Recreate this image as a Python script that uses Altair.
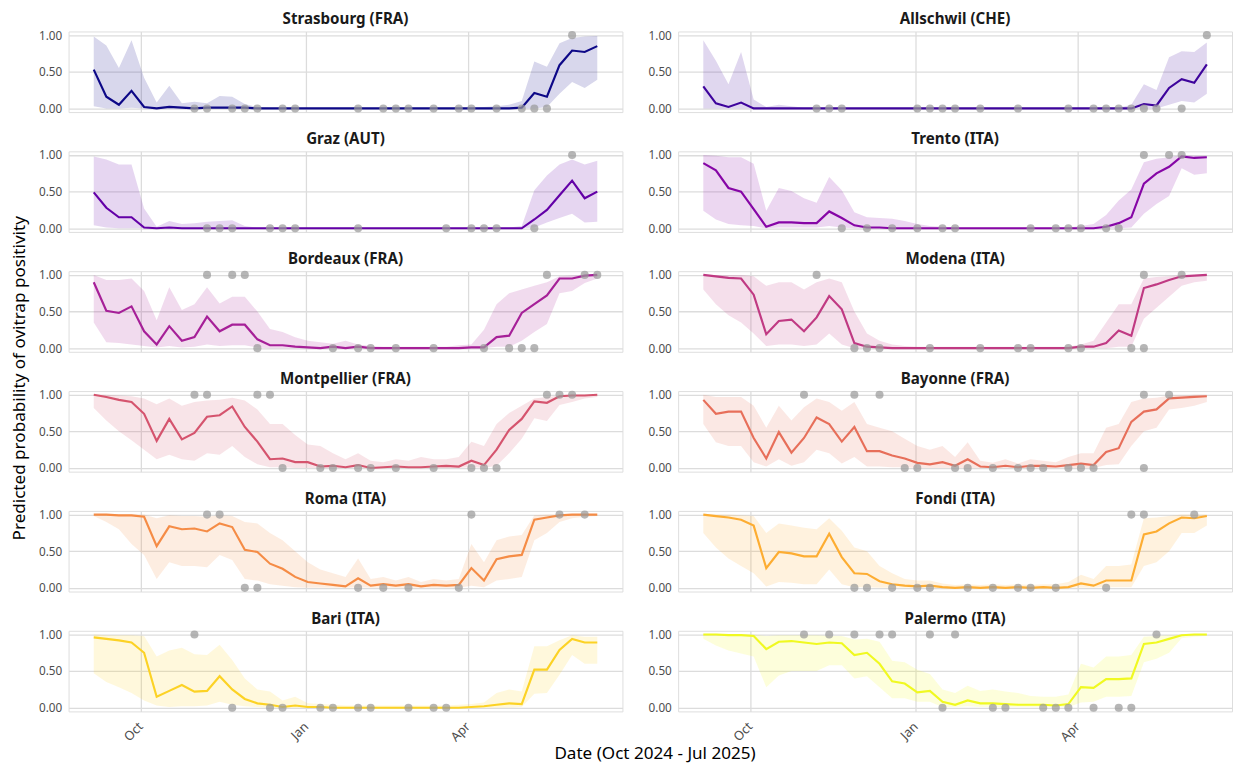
import altair as alt
import pandas as pd

DATES = [
    "2024-09-05", "2024-09-12", "2024-09-19", "2024-09-26", "2024-10-03",
    "2024-10-10", "2024-10-17", "2024-10-24", "2024-10-31", "2024-11-07",
    "2024-11-14", "2024-11-21", "2024-11-28", "2024-12-05", "2024-12-12",
    "2024-12-19", "2024-12-26", "2025-01-02", "2025-01-09", "2025-01-16",
    "2025-01-23", "2025-01-30", "2025-02-06", "2025-02-13", "2025-02-20",
    "2025-02-27", "2025-03-06", "2025-03-13", "2025-03-20", "2025-03-27",
    "2025-04-03", "2025-04-10", "2025-04-17", "2025-04-24", "2025-05-01",
    "2025-05-08", "2025-05-15", "2025-05-22", "2025-05-29", "2025-06-05",
    "2025-06-12",
]

CITIES = ["Strasbourg (FRA)", "Allschwil (CHE)", "Graz (AUT)", "Trento (ITA)",
          "Bordeaux (FRA)", "Modena (ITA)", "Montpellier (FRA)", "Bayonne (FRA)",
          "Roma (ITA)", "Fondi (ITA)", "Bari (ITA)", "Palermo (ITA)"]
COLORS = ["#0D0887", "#3E049C", "#6300A7", "#8606A6", "#A62098", "#C03A83",
          "#D5546E", "#E76F5A", "#F58C46", "#FDAD32", "#FCD225", "#F0F921"]

# ---------------- Strasbourg ----------------
STRASBOURG_MEAN = [0.53, 0.16, 0.05, 0.24, 0.02, 0.00, 0.02, 0.01, 0.00, 0.01,
                   0.01, 0.01, 0.01, 0.00, 0.00, 0.00, 0.00, 0.00, 0.00, 0.00,
                   0.00, 0.00, 0.00, 0.00, 0.00, 0.00, 0.00, 0.00, 0.00, 0.00,
                   0.00, 0.00, 0.00, 0.00, 0.01, 0.21, 0.16, 0.59, 0.79, 0.77, 0.85]
STRASBOURG_LO = [0.03, 0.00, 0.00, 0.01, 0.00, 0.00, 0.00, 0.00, 0.00, 0.00,
                 0.00, 0.00, 0.00, 0.00, 0.00, 0.00, 0.00, 0.00, 0.00, 0.00,
                 0.00, 0.00, 0.00, 0.00, 0.00, 0.00, 0.00, 0.00, 0.00, 0.00,
                 0.00, 0.00, 0.00, 0.00, 0.00, 0.00, 0.02, 0.20, 0.36, 0.28, 0.39]
STRASBOURG_HI = [0.98, 0.86, 0.55, 0.93, 0.42, 0.08, 0.31, 0.07, 0.09, 0.07,
                 0.17, 0.16, 0.06, 0.02, 0.01, 0.01, 0.01, 0.01, 0.01, 0.01,
                 0.01, 0.01, 0.01, 0.01, 0.01, 0.01, 0.01, 0.01, 0.01, 0.01,
                 0.01, 0.02, 0.03, 0.05, 0.10, 0.64, 0.57, 0.89, 0.96, 0.98, 0.99]
STRASBOURG_NEG = [8, 9, 11, 12, 13, 15, 16, 21, 23, 24, 25, 27, 29, 30, 32, 34, 35, 36]
STRASBOURG_POS = [38]

# ---------------- Allschwil ----------------
ALLSCHWIL_MEAN = [0.30, 0.07, 0.02, 0.08, 0.00, 0.00, 0.00, 0.00, 0.00, 0.00,
                  0.00, 0.00, 0.00, 0.00, 0.00, 0.00, 0.00, 0.00, 0.00, 0.00,
                  0.00, 0.00, 0.00, 0.00, 0.00, 0.00, 0.00, 0.00, 0.00, 0.00,
                  0.00, 0.00, 0.00, 0.00, 0.00, 0.06, 0.04, 0.28, 0.40, 0.35, 0.60]
ALLSCHWIL_LO = [0.00, 0.00, 0.00, 0.00, 0.00, 0.00, 0.00, 0.00, 0.00, 0.00,
                0.00, 0.00, 0.00, 0.00, 0.00, 0.00, 0.00, 0.00, 0.00, 0.00,
                0.00, 0.00, 0.00, 0.00, 0.00, 0.00, 0.00, 0.00, 0.00, 0.00,
                0.00, 0.00, 0.00, 0.00, 0.00, 0.00, 0.00, 0.05, 0.10, 0.08, 0.20]
ALLSCHWIL_HI = [0.93, 0.65, 0.33, 0.77, 0.12, 0.02, 0.05, 0.03, 0.01, 0.01,
                0.01, 0.01, 0.01, 0.01, 0.01, 0.01, 0.01, 0.01, 0.01, 0.01,
                0.01, 0.01, 0.01, 0.01, 0.01, 0.01, 0.01, 0.01, 0.01, 0.01,
                0.01, 0.01, 0.01, 0.01, 0.05, 0.33, 0.25, 0.70, 0.78, 0.77, 0.90]
ALLSCHWIL_NEG = [9, 10, 11, 17, 18, 19, 20, 22, 25, 29, 31, 32, 33, 34, 35, 36, 38]
ALLSCHWIL_POS = [40]

# ---------------- Graz ----------------
GRAZ_MEAN = [0.49, 0.28, 0.15, 0.15, 0.01, 0.00, 0.01, 0.00, 0.00, 0.00,
             0.00, 0.00, 0.00, 0.00, 0.00, 0.00, 0.00, 0.00, 0.00, 0.00,
             0.00, 0.00, 0.00, 0.00, 0.00, 0.00, 0.00, 0.00, 0.00, 0.00,
             0.00, 0.00, 0.00, 0.00, 0.00, 0.12, 0.25, 0.45, 0.65, 0.41, 0.50]
GRAZ_LO = [0.04, 0.01, 0.00, 0.00, 0.00, 0.00, 0.00, 0.00, 0.00, 0.00,
           0.00, 0.00, 0.00, 0.00, 0.00, 0.00, 0.00, 0.00, 0.00, 0.00,
           0.00, 0.00, 0.00, 0.00, 0.00, 0.00, 0.00, 0.00, 0.00, 0.00,
           0.00, 0.00, 0.00, 0.00, 0.00, 0.01, 0.08, 0.14, 0.20, 0.08, 0.09]
GRAZ_HI = [0.98, 0.94, 0.87, 0.87, 0.27, 0.02, 0.10, 0.06, 0.07, 0.09,
           0.10, 0.11, 0.03, 0.01, 0.01, 0.01, 0.01, 0.01, 0.01, 0.01,
           0.01, 0.01, 0.01, 0.01, 0.01, 0.01, 0.01, 0.01, 0.01, 0.01,
           0.01, 0.01, 0.01, 0.01, 0.03, 0.52, 0.72, 0.87, 0.94, 0.87, 0.92]
GRAZ_NEG = [9, 10, 11, 14, 15, 16, 21, 28, 30, 31, 32, 35]
GRAZ_POS = [38]

# ---------------- Trento ----------------
TRENTO_MEAN = [0.89, 0.79, 0.55, 0.50, 0.26, 0.02, 0.08, 0.08, 0.07, 0.07,
               0.23, 0.14, 0.04, 0.01, 0.01, 0.00, 0.00, 0.00, 0.00, 0.00,
               0.00, 0.00, 0.00, 0.00, 0.00, 0.00, 0.00, 0.00, 0.00, 0.00,
               0.00, 0.00, 0.02, 0.07, 0.15, 0.61, 0.75, 0.84, 0.98, 0.96, 0.97]
TRENTO_LO = [0.24, 0.12, 0.06, 0.04, 0.03, 0.00, 0.01, 0.01, 0.01, 0.01,
             0.03, 0.01, 0.00, 0.00, 0.00, 0.00, 0.00, 0.00, 0.00, 0.00,
             0.00, 0.00, 0.00, 0.00, 0.00, 0.00, 0.00, 0.00, 0.00, 0.00,
             0.00, 0.00, 0.00, 0.00, 0.01, 0.20, 0.33, 0.44, 0.82, 0.73, 0.75]
TRENTO_HI = [1.00, 0.99, 0.97, 0.97, 0.88, 0.24, 0.55, 0.51, 0.41, 0.35,
             0.70, 0.52, 0.22, 0.15, 0.14, 0.13, 0.10, 0.06, 0.03, 0.02,
             0.01, 0.01, 0.01, 0.01, 0.01, 0.01, 0.01, 0.01, 0.01, 0.01,
             0.03, 0.06, 0.18, 0.38, 0.53, 0.90, 0.95, 0.97, 1.00, 0.99, 0.99]
TRENTO_NEG = [11, 13, 15, 17, 19, 20, 26, 28, 29, 30, 32, 33]
TRENTO_POS = [35, 37, 38]

# ---------------- Bordeaux ----------------
BORDEAUX_MEAN = [0.90, 0.51, 0.48, 0.57, 0.23, 0.05, 0.30, 0.10, 0.15, 0.43,
                 0.23, 0.32, 0.32, 0.12, 0.04, 0.04, 0.02, 0.01, 0.00, 0.02,
                 0.00, 0.02, 0.00, 0.00, 0.00, 0.00, 0.00, 0.00, 0.00, 0.00,
                 0.01, 0.01, 0.15, 0.17, 0.48, 0.60, 0.72, 0.95, 0.95, 0.99, 1.00]
BORDEAUX_LO = [0.35, 0.08, 0.07, 0.05, 0.03, 0.01, 0.03, 0.01, 0.02, 0.05,
               0.03, 0.04, 0.04, 0.01, 0.00, 0.00, 0.00, 0.00, 0.00, 0.00,
               0.00, 0.00, 0.00, 0.00, 0.00, 0.00, 0.00, 0.00, 0.00, 0.00,
               0.00, 0.00, 0.02, 0.02, 0.10, 0.22, 0.33, 0.75, 0.78, 0.89, 0.95]
BORDEAUX_HI = [1.00, 0.93, 0.93, 0.95, 0.78, 0.38, 0.83, 0.52, 0.60, 0.83,
               0.61, 0.70, 0.70, 0.50, 0.26, 0.22, 0.15, 0.10, 0.08, 0.06,
               0.10, 0.05, 0.03, 0.02, 0.02, 0.02, 0.02, 0.02, 0.02, 0.04,
               0.05, 0.25, 0.60, 0.75, 0.80, 0.85, 0.90, 0.98, 0.99, 1.00, 1.00]
BORDEAUX_NEG = [13, 19, 21, 22, 24, 27, 31, 33, 34, 35]
BORDEAUX_POS = [9, 11, 12, 36, 39, 40]

# ---------------- Modena ----------------
MODENA_MEAN = [1.00, 0.98, 0.96, 0.95, 0.73, 0.19, 0.37, 0.39, 0.23, 0.42,
               0.71, 0.53, 0.07, 0.02, 0.01, 0.00, 0.00, 0.00, 0.00, 0.00,
               0.00, 0.00, 0.00, 0.00, 0.00, 0.00, 0.00, 0.00, 0.00, 0.00,
               0.02, 0.02, 0.07, 0.24, 0.17, 0.82, 0.87, 0.93, 0.98, 0.99, 1.00]
MODENA_LO = [0.80, 0.60, 0.45, 0.35, 0.20, 0.03, 0.05, 0.05, 0.03, 0.05,
             0.20, 0.05, 0.00, 0.00, 0.00, 0.00, 0.00, 0.00, 0.00, 0.00,
             0.00, 0.00, 0.00, 0.00, 0.00, 0.00, 0.00, 0.00, 0.00, 0.00,
             0.00, 0.00, 0.00, 0.02, 0.02, 0.40, 0.55, 0.70, 0.85, 0.90, 0.92]
MODENA_HI = [1.00, 1.00, 1.00, 1.00, 0.98, 0.85, 0.90, 0.90, 0.80, 0.90,
             0.95, 0.90, 0.50, 0.20, 0.10, 0.05, 0.03, 0.02, 0.02, 0.02,
             0.02, 0.02, 0.02, 0.02, 0.02, 0.02, 0.02, 0.02, 0.02, 0.02,
             0.05, 0.10, 0.35, 0.60, 0.60, 0.95, 0.97, 0.98, 1.00, 1.00, 1.00]
MODENA_NEG = [12, 13, 14, 18, 22, 25, 26, 29, 30, 34, 35]
MODENA_POS = [9, 35, 38]

# ---------------- Montpellier ----------------
MONTPELLIER_MEAN = [1.00, 0.97, 0.93, 0.90, 0.74, 0.37, 0.67, 0.39, 0.48, 0.70,
                    0.72, 0.84, 0.56, 0.36, 0.12, 0.13, 0.08, 0.08, 0.02, 0.03,
                    0.01, 0.04, 0.00, 0.01, 0.02, 0.01, 0.01, 0.02, 0.03, 0.02,
                    0.10, 0.04, 0.25, 0.52, 0.67, 0.91, 0.89, 0.98, 0.99, 0.99, 1.00]
MONTPELLIER_LO = [0.82, 0.65, 0.50, 0.38, 0.25, 0.12, 0.18, 0.12, 0.10, 0.20,
                  0.18, 0.30, 0.15, 0.05, 0.01, 0.01, 0.00, 0.00, 0.00, 0.00,
                  0.00, 0.00, 0.00, 0.00, 0.00, 0.00, 0.00, 0.00, 0.00, 0.00,
                  0.01, 0.00, 0.03, 0.20, 0.40, 0.68, 0.64, 0.86, 0.90, 0.95, 0.97]
MONTPELLIER_HI = [1.00, 1.00, 0.99, 0.98, 0.95, 0.87, 0.95, 0.85, 0.90, 0.92,
                  0.93, 0.96, 0.92, 0.80, 0.60, 0.60, 0.45, 0.32, 0.30, 0.20,
                  0.12, 0.20, 0.10, 0.08, 0.12, 0.10, 0.15, 0.12, 0.12, 0.15,
                  0.36, 0.30, 0.60, 0.75, 0.85, 0.95, 0.97, 0.99, 1.00, 1.00, 1.00]
MONTPELLIER_NEG = [15, 18, 19, 21, 22, 24, 27, 30, 31, 32]
MONTPELLIER_POS = [8, 9, 13, 14, 36, 37, 38]

# ---------------- Bayonne ----------------
BAYONNE_MEAN = [0.93, 0.74, 0.77, 0.77, 0.41, 0.13, 0.49, 0.21, 0.41, 0.69,
                0.60, 0.36, 0.56, 0.23, 0.23, 0.17, 0.13, 0.07, 0.05, 0.08,
                0.03, 0.12, 0.02, 0.01, 0.03, 0.01, 0.03, 0.03, 0.02, 0.04,
                0.06, 0.04, 0.22, 0.27, 0.63, 0.77, 0.80, 0.95, 0.96, 0.97, 0.98]
BAYONNE_LO = [0.60, 0.35, 0.30, 0.30, 0.08, 0.02, 0.12, 0.03, 0.08, 0.25,
              0.20, 0.06, 0.15, 0.02, 0.02, 0.01, 0.01, 0.00, 0.00, 0.00,
              0.00, 0.00, 0.00, 0.00, 0.00, 0.00, 0.00, 0.00, 0.00, 0.00,
              0.00, 0.00, 0.04, 0.05, 0.30, 0.50, 0.55, 0.80, 0.82, 0.85, 0.90]
BAYONNE_HI = [1.00, 0.97, 0.97, 0.97, 0.85, 0.55, 0.85, 0.65, 0.83, 0.95,
              0.90, 0.78, 0.90, 0.60, 0.55, 0.50, 0.40, 0.30, 0.25, 0.30,
              0.15, 0.35, 0.10, 0.07, 0.12, 0.06, 0.12, 0.10, 0.08, 0.15,
              0.20, 0.20, 0.55, 0.60, 0.90, 0.95, 0.96, 0.99, 0.99, 1.00, 1.00]
BAYONNE_NEG = [16, 17, 20, 21, 23, 25, 26, 27, 29, 30, 31, 35]
BAYONNE_POS = [8, 12, 14, 35, 37]

# ---------------- Roma ----------------
ROMA_MEAN = [1.00, 1.00, 0.99, 0.99, 0.97, 0.57, 0.84, 0.80, 0.81, 0.77,
             0.88, 0.83, 0.52, 0.49, 0.33, 0.26, 0.15, 0.08, 0.06, 0.04,
             0.02, 0.13, 0.03, 0.05, 0.03, 0.05, 0.02, 0.04, 0.03, 0.04,
             0.27, 0.10, 0.39, 0.43, 0.45, 0.93, 0.96, 0.99, 1.00, 1.00, 1.00]
ROMA_LO = [0.98, 0.90, 0.80, 0.60, 0.45, 0.12, 0.35, 0.30, 0.30, 0.28,
           0.45, 0.38, 0.12, 0.10, 0.05, 0.03, 0.01, 0.00, 0.00, 0.00,
           0.00, 0.01, 0.00, 0.00, 0.00, 0.00, 0.00, 0.00, 0.00, 0.00,
           0.03, 0.01, 0.10, 0.12, 0.15, 0.65, 0.75, 0.90, 0.95, 0.97, 0.98]
ROMA_HI = [1.00, 1.00, 1.00, 1.00, 1.00, 0.95, 0.99, 0.98, 0.98, 0.97,
           0.99, 0.98, 0.90, 0.88, 0.75, 0.65, 0.50, 0.35, 0.25, 0.20,
           0.15, 0.40, 0.12, 0.15, 0.10, 0.15, 0.08, 0.12, 0.10, 0.12,
           0.60, 0.35, 0.65, 0.70, 0.72, 0.99, 1.00, 1.00, 1.00, 1.00, 1.00]
ROMA_NEG = [12, 13, 21, 23, 25, 29]
ROMA_POS = [9, 10, 30, 37, 39]

# ---------------- Fondi ----------------
FONDI_MEAN = [1.00, 0.98, 0.96, 0.93, 0.85, 0.27, 0.49, 0.47, 0.43, 0.43,
              0.74, 0.42, 0.20, 0.19, 0.09, 0.05, 0.03, 0.02, 0.03, 0.01,
              0.00, 0.01, 0.00, 0.01, 0.00, 0.01, 0.00, 0.01, 0.00, 0.01,
              0.06, 0.03, 0.10, 0.10, 0.10, 0.73, 0.77, 0.88, 0.96, 0.95, 0.98]
FONDI_LO = [0.75, 0.55, 0.40, 0.30, 0.20, 0.02, 0.08, 0.07, 0.05, 0.05,
            0.25, 0.05, 0.01, 0.01, 0.00, 0.00, 0.00, 0.00, 0.00, 0.00,
            0.00, 0.00, 0.00, 0.00, 0.00, 0.00, 0.00, 0.00, 0.00, 0.00,
            0.00, 0.00, 0.01, 0.01, 0.01, 0.30, 0.35, 0.50, 0.75, 0.75, 0.85]
FONDI_HI = [1.00, 1.00, 1.00, 0.99, 0.98, 0.75, 0.88, 0.85, 0.82, 0.80,
            0.95, 0.78, 0.55, 0.50, 0.30, 0.20, 0.12, 0.10, 0.10, 0.06,
            0.04, 0.05, 0.04, 0.05, 0.04, 0.05, 0.04, 0.05, 0.05, 0.08,
            0.18, 0.12, 0.30, 0.30, 0.32, 0.95, 0.96, 0.98, 1.00, 1.00, 1.00]
FONDI_NEG = [12, 13, 15, 17, 18, 21, 23, 25, 26, 28, 32]
FONDI_POS = [34, 35, 39]

# ---------------- Bari ----------------
BARI_MEAN = [0.96, 0.94, 0.92, 0.89, 0.75, 0.15, 0.23, 0.31, 0.22, 0.23,
             0.43, 0.25, 0.12, 0.06, 0.04, 0.01, 0.03, 0.01, 0.01, 0.00,
             0.00, 0.00, 0.00, 0.00, 0.00, 0.00, 0.00, 0.00, 0.00, 0.00,
             0.01, 0.02, 0.04, 0.06, 0.05, 0.52, 0.52, 0.79, 0.94, 0.89, 0.89]
BARI_LO = [0.47, 0.35, 0.28, 0.20, 0.10, 0.03, 0.01, 0.02, 0.02, 0.03,
           0.08, 0.04, 0.02, 0.01, 0.00, 0.00, 0.00, 0.00, 0.00, 0.00,
           0.00, 0.00, 0.00, 0.00, 0.00, 0.00, 0.00, 0.00, 0.00, 0.00,
           0.00, 0.00, 0.00, 0.00, 0.01, 0.19, 0.20, 0.45, 0.72, 0.60, 0.60]
BARI_HI = [1.00, 0.99, 0.99, 0.99, 0.98, 0.70, 0.78, 0.82, 0.73, 0.72,
           0.86, 0.65, 0.40, 0.25, 0.22, 0.10, 0.15, 0.06, 0.05, 0.04,
           0.03, 0.03, 0.03, 0.03, 0.03, 0.03, 0.03, 0.03, 0.03, 0.04,
           0.05, 0.07, 0.20, 0.25, 0.22, 0.84, 0.84, 0.92, 0.99, 0.97, 0.97]
BARI_NEG = [11, 14, 15, 18, 19, 21, 22, 25, 27, 28]
BARI_POS = [8]

# ---------------- Palermo ----------------
PALERMO_MEAN = [1.00, 1.00, 0.99, 0.99, 0.98, 0.80, 0.90, 0.91, 0.89, 0.87,
                0.89, 0.88, 0.72, 0.75, 0.60, 0.36, 0.33, 0.21, 0.23, 0.08,
                0.04, 0.10, 0.06, 0.06, 0.05, 0.04, 0.04, 0.04, 0.03, 0.05,
                0.28, 0.27, 0.39, 0.39, 0.40, 0.87, 0.89, 0.94, 0.99, 1.00, 1.00]
PALERMO_LO = [0.94, 0.85, 0.78, 0.74, 0.70, 0.28, 0.44, 0.50, 0.50, 0.50,
              0.58, 0.58, 0.40, 0.43, 0.28, 0.13, 0.13, 0.08, 0.08, 0.01,
              0.01, 0.02, 0.01, 0.01, 0.01, 0.01, 0.01, 0.01, 0.01, 0.01,
              0.07, 0.08, 0.15, 0.15, 0.16, 0.62, 0.67, 0.75, 0.95, 0.97, 0.98]
PALERMO_HI = [1.00, 1.00, 1.00, 1.00, 1.00, 0.98, 0.99, 0.99, 0.99, 0.99,
              0.98, 0.98, 0.93, 0.94, 0.90, 0.64, 0.62, 0.52, 0.46, 0.25,
              0.20, 0.30, 0.23, 0.25, 0.22, 0.20, 0.16, 0.15, 0.15, 0.18,
              0.60, 0.55, 0.70, 0.70, 0.72, 0.97, 0.98, 0.99, 1.00, 1.00, 1.00]
PALERMO_NEG = [19, 23, 24, 27, 28, 29, 31, 33, 34]
PALERMO_POS = [8, 10, 12, 14, 15, 18, 20, 36]

SERIES = [
    (STRASBOURG_MEAN, STRASBOURG_LO, STRASBOURG_HI, STRASBOURG_NEG, STRASBOURG_POS),
    (ALLSCHWIL_MEAN, ALLSCHWIL_LO, ALLSCHWIL_HI, ALLSCHWIL_NEG, ALLSCHWIL_POS),
    (GRAZ_MEAN, GRAZ_LO, GRAZ_HI, GRAZ_NEG, GRAZ_POS),
    (TRENTO_MEAN, TRENTO_LO, TRENTO_HI, TRENTO_NEG, TRENTO_POS),
    (BORDEAUX_MEAN, BORDEAUX_LO, BORDEAUX_HI, BORDEAUX_NEG, BORDEAUX_POS),
    (MODENA_MEAN, MODENA_LO, MODENA_HI, MODENA_NEG, MODENA_POS),
    (MONTPELLIER_MEAN, MONTPELLIER_LO, MONTPELLIER_HI, MONTPELLIER_NEG, MONTPELLIER_POS),
    (BAYONNE_MEAN, BAYONNE_LO, BAYONNE_HI, BAYONNE_NEG, BAYONNE_POS),
    (ROMA_MEAN, ROMA_LO, ROMA_HI, ROMA_NEG, ROMA_POS),
    (FONDI_MEAN, FONDI_LO, FONDI_HI, FONDI_NEG, FONDI_POS),
    (BARI_MEAN, BARI_LO, BARI_HI, BARI_NEG, BARI_POS),
    (PALERMO_MEAN, PALERMO_LO, PALERMO_HI, PALERMO_NEG, PALERMO_POS),
]

Y_TICKS = [0, 0.25, 0.5, 0.75, 1]
X_DOMAIN = [alt.DateTime(year=2024, month=8, date=22, utc=True),
            alt.DateTime(year=2025, month=6, date=26, utc=True)]
X_TICKS = [alt.DateTime(year=2024, month=10, date=1, utc=True),
           alt.DateTime(year=2025, month=1, date=1, utc=True),
           alt.DateTime(year=2025, month=4, date=1, utc=True)]

FONT = "Noto Sans"
GRID = "#dcdcdc"
PANEL_W = 567
PANEL_H = 82.5


def panel(name, color, mean, lo, hi, neg, pos, bottom):
    df = pd.DataFrame({"date": DATES, "mean": mean, "lo": lo, "hi": hi})
    obs = pd.DataFrame({
        "date": [DATES[i] for i in neg] + [DATES[i] for i in pos],
        "obs": [0] * len(neg) + [1] * len(pos),
    })
    xaxis = alt.Axis(values=X_TICKS, labelExpr="utcFormat(datum.value, '%b')",
                     labels=bottom, labelAngle=-45, labelAlign="right",
                     labelBaseline="middle", labelPadding=13, grid=True,
                     gridColor=GRID, gridWidth=1.3, domain=False, ticks=False,
                     title=None, labelFontSize=13, labelColor="#4d4d4d",
                     labelFont=FONT)
    xscale = alt.Scale(type="utc", domain=X_DOMAIN)
    yscale = alt.Scale(domain=[-0.05, 1.05], nice=False, zero=False)
    yaxis = alt.Axis(values=Y_TICKS, format=".2f", grid=True, gridColor=GRID,
                     gridWidth=1.3, domain=False, ticks=False, title=None,
                     labelPadding=7, labelFontSize=12, labelColor="#4d4d4d",
                     labelFont=FONT)
    x = alt.X("date:T", scale=xscale, axis=xaxis)
    band = alt.Chart(df).mark_area(color=color, opacity=0.16).encode(
        x=x, y=alt.Y("lo:Q", scale=yscale, axis=yaxis), y2="hi:Q")
    line = alt.Chart(df).mark_line(color=color, strokeWidth=2.2).encode(
        x=x, y=alt.Y("mean:Q", scale=yscale))
    pts = alt.Chart(obs).mark_circle(color="#9a9a9a", opacity=0.72, size=68).encode(
        x=x, y=alt.Y("obs:Q", scale=yscale))
    return alt.layer(band, line, pts).properties(
        width=PANEL_W, height=PANEL_H,
        title=alt.TitleParams(name, fontSize=15.5, fontWeight="bold", color="#1a1a1a",
                              font=FONT, anchor="middle", offset=1.5))


rows = []
for r in range(6):
    cells = []
    for c in range(2):
        k = r * 2 + c
        m, lo, hi, neg, pos = SERIES[k]
        cells.append(panel(CITIES[k], COLORS[k], m, lo, hi, neg, pos, bottom=(r == 5)))
    rows.append(alt.hconcat(*cells, spacing=24))

grid = alt.vconcat(*rows, spacing=16.7).properties(
    title=alt.TitleParams("Predicted probability of ovitrap positivity", orient="left",
                          anchor="middle", fontSize=17.5, fontWeight="normal",
                          font=FONT, color="#000000", offset=10))

chart = alt.vconcat(grid).properties(
    title=alt.TitleParams("Date (Oct 2024 - Jul 2025)", orient="bottom",
                          anchor="middle", fontSize=17.5, fontWeight="normal",
                          font=FONT, color="#000000", offset=1, dx=34),
    padding={"left": 3, "top": -5, "right": 0, "bottom": 0},
).configure_view(stroke=None).configure(font=FONT)

chart.save("out.html", embed_options={"renderer": "svg", "actions": False})
